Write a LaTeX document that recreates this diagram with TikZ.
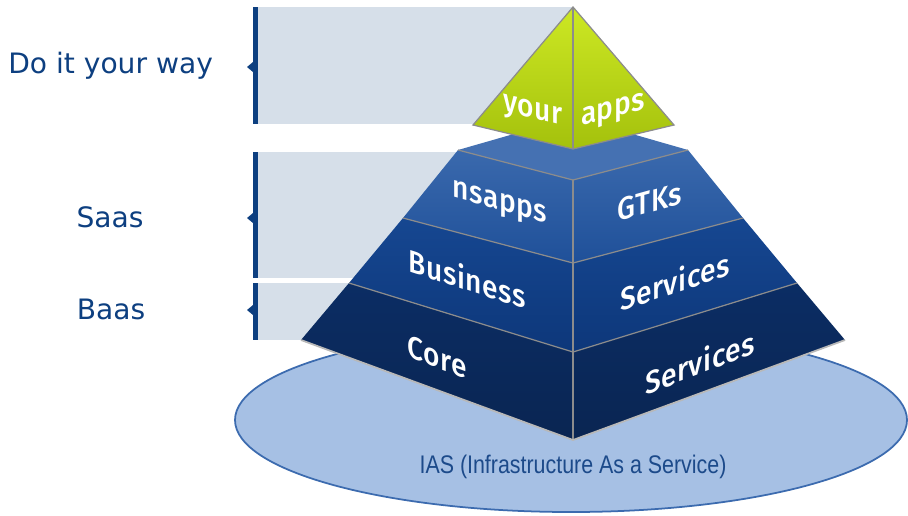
\documentclass[tikz,border=0pt]{standalone}
\usepackage[x11names]{xcolor}
\usepackage{fontspec}
\setmainfont{DejaVu Sans}
\newfontfamily\narrowfont{Liberation Sans}
\newfontfamily\facefont{Fira Sans}[UprightFont = * Medium, LetterSpace = 2]
\usepackage{tikz}

\definecolor{barblue}{HTML}{0D3F80}
\definecolor{boxgrey}{HTML}{D6DFE9}
\definecolor{iasfill}{HTML}{A6C0E4}
\definecolor{iasline}{HTML}{3C6BAF}
\definecolor{iastext}{HTML}{1C4A8A}
\definecolor{topface}{HTML}{4571B2}
\definecolor{lay1a}{HTML}{3A69AD}
\definecolor{lay1b}{HTML}{1F5099}
\definecolor{lay2a}{HTML}{164791}
\definecolor{lay2b}{HTML}{0D377A}
\definecolor{lay3a}{HTML}{0B2D64}
\definecolor{lay3b}{HTML}{0A2552}
\definecolor{greena}{HTML}{CDE824}
\definecolor{greenb}{HTML}{A4C10C}
\definecolor{rimgrey}{HTML}{8C8C8C}
\definecolor{lowrim}{HTML}{B8B8B8}

\begin{document}
\begin{tikzpicture}[x = 0.02cm, y = -0.02cm,
    sidelabel/.style = {barblue, font = \fontsize{16}{19}\selectfont},
    layertext/.style = {white, inner sep = 0pt, yscale = 1.12, font = \facefont\fontsize{16}{19}\selectfont},
    rim/.style = {rimgrey, line width = 0.7pt}]
    \useasboundingbox (0, 0) rectangle (908, 515);

    % brackets on the left
    \foreach \t/\b/\m in {7/124/67, 152/278/218, 283/340/310} {
        \fill [boxgrey] (258, \t) rectangle (573, \b);
        \fill [barblue] (253, \t) rectangle (258, \b);
        \fill [barblue] (253, \m - 5) -- (247, \m) -- (253, \m + 5) -- cycle;
    }
    \node [sidelabel, anchor = west, inner sep = 0pt] (way) at (8, 66) {Do it your way};
    \node [sidelabel] (saas) at (110, 217) {Saas};
    \node [sidelabel] (baas) at (111, 309) {Baas};

    % base
    \filldraw [fill = iasfill, draw = iasline, line width = 1pt] (571, 420) ellipse [x radius = 336, y radius = 92];
    \node [iastext, font = \narrowfont\fontsize{14.5}{17}\selectfont, xscale = 0.84] (ias) at (573, 467) {IAS (Infrastructure As a Service)};

    % corners of the blue layers
    \foreach \n/\y/\w/\f in {1/150/115/180, 2/218/170/263, 3/283/224/352, 4/340/272/440} {
        \coordinate (L\n) at (573 - \w, \y);
        \coordinate (R\n) at (573 + \w, \y);
        \coordinate (F\n) at (573, \f);
    }
    \coordinate (B1) at (573, 117);

    \fill [topface] (L1) -- (B1) -- (R1) -- (F1) -- cycle;
    \foreach \k [count = \n from 2] in {1, 2, 3} {
        \shade [top color = lay\k a, bottom color = lay\k b] (L\k) -- (F\k) -- (F\n) -- (L\n) -- cycle;
        \shade [top color = lay\k a, bottom color = lay\k b] (R\k) -- (F\k) -- (F\n) -- (R\n) -- cycle;
        \draw [rim] (L\k) -- (F\k) -- (R\k);
    }
    \draw [rim] (F1) -- (F4);
    \draw [lowrim, line width = 1pt] (L4) -- (F4) -- (R4);

    % green top
    \coordinate (apex) at (573, 7);
    \coordinate (GL) at (473, 125);
    \coordinate (GR) at (674, 125);
    \coordinate (GF) at (573, 149);
    \shade [top color = greena, bottom color = greenb] (apex) -- (GL) -- (GF) -- cycle;
    \shade [top color = greena, bottom color = greenb] (apex) -- (GR) -- (GF) -- cycle;
    \draw [rim] (apex) -- (GL) -- (GF) -- (GR) -- cycle;
    \draw [rim] (apex) -- (GF);

    % layer texts
    \node [layertext, yslant = -0.22] (your) at (533, 113) {your};
    \node [layertext, yslant = 0.22] (apps) at (613, 112) {apps};
    \node [layertext, yslant = -0.25] (nsapps) at (500, 205) {nsapps};
    \node [layertext, yslant = 0.25] (gtks) at (650, 202) {GTKs};
    \node [layertext, yslant = -0.29] (business) at (467, 278) {Business};
    \node [layertext, yslant = 0.3] (services) at (675, 281) {Services};
    \node [layertext, yslant = -0.33] (core) at (437, 357) {Core};
    \node [layertext, yslant = 0.34] (coreservices) at (700, 362) {Services};
\end{tikzpicture}
\end{document}
